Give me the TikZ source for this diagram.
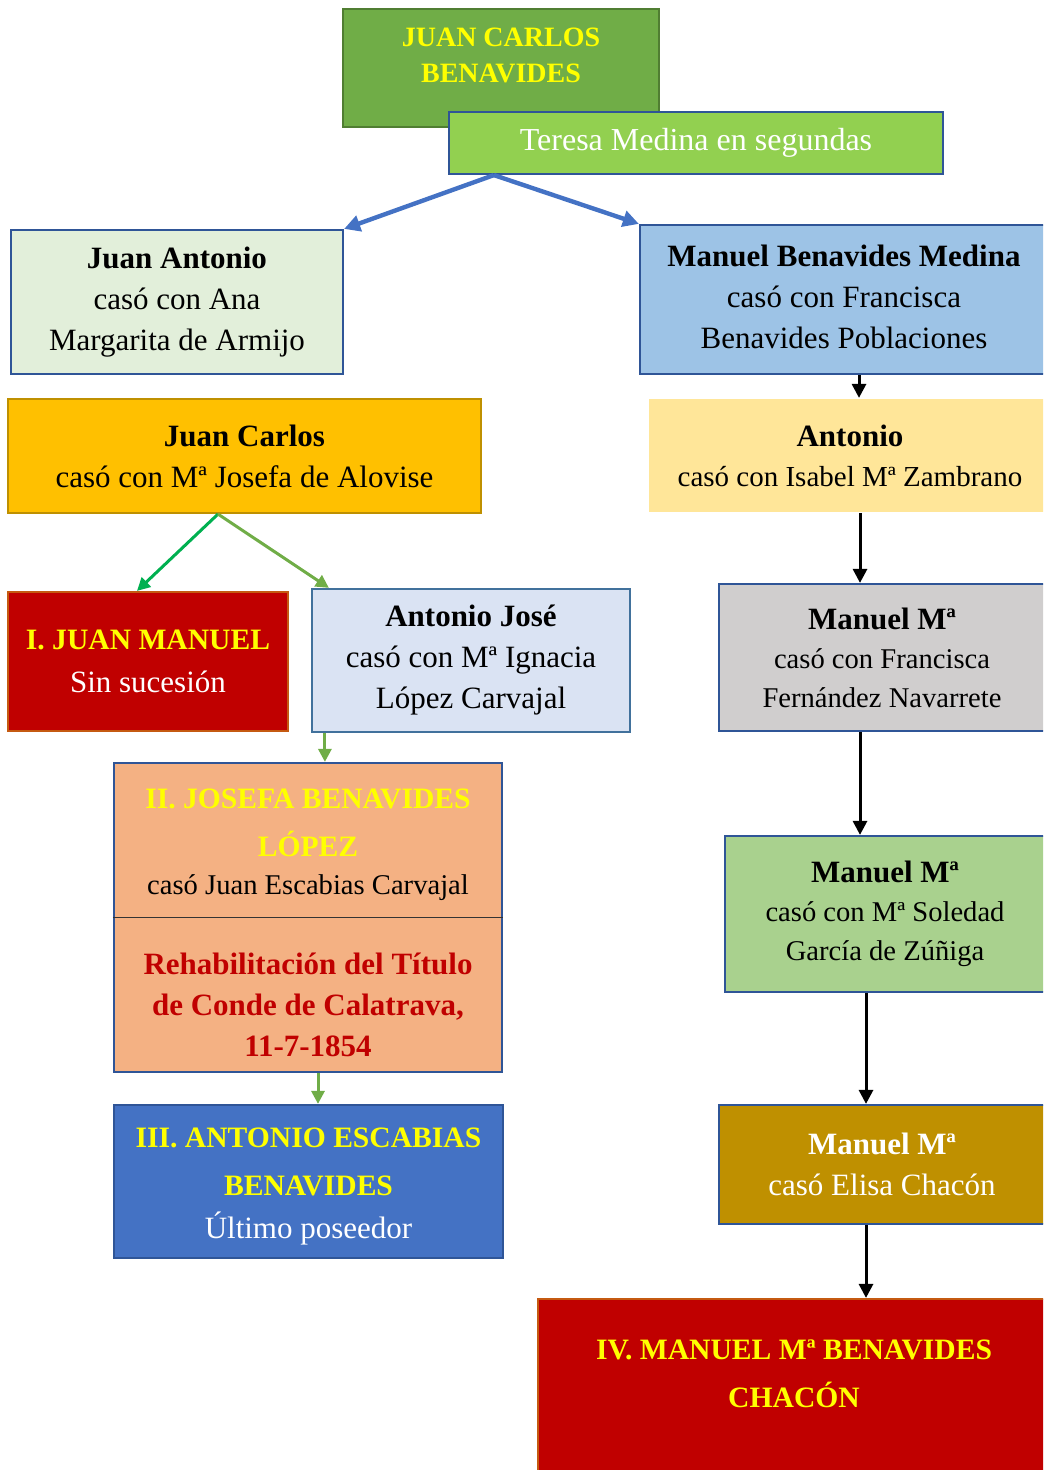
\documentclass[tikz,border=0pt]{standalone}
\usepackage{fontspec}
\setmainfont{Liberation Serif}
\usepackage{xcolor}
\usepackage{tikz}
\usetikzlibrary{arrows.meta}
\usetikzlibrary{calc}

\definecolor{jcgreen}{HTML}{70AD47}
\definecolor{jcedge}{HTML}{507E32}
\definecolor{limegreen}{HTML}{92D050}
\definecolor{edgeblue}{HTML}{2F5597}
\definecolor{arrowblue}{HTML}{4472C4}
\definecolor{palegreen}{HTML}{E2EFDA}
\definecolor{skyblue}{HTML}{9DC3E6}
\definecolor{amber}{HTML}{FFC000}
\definecolor{amberedge}{HTML}{BF9000}
\definecolor{paleyellow}{HTML}{FFE699}
\definecolor{darkred}{HTML}{C00000}
\definecolor{rededge}{HTML}{C55A11}
\definecolor{paleblue}{HTML}{DAE3F3}
\definecolor{steeledge}{HTML}{41719C}
\definecolor{peach}{HTML}{F4B183}
\definecolor{royal}{HTML}{4472C4}
\definecolor{stone}{HTML}{D0CECE}
\definecolor{sage}{HTML}{A9D18E}
\definecolor{ochre}{HTML}{BF9000}
\definecolor{brightgreen}{HTML}{00B050}
\definecolor{titleyellow}{HTML}{FFFF00}

\newcommand{\bodyfont}{\fontsize{15.5}{20.5}\selectfont}
\newcommand{\smallbody}{\fontsize{14.3}{19.5}\selectfont}
\newcommand{\titlefont}{\fontsize{14.8}{24}\selectfont\bfseries}
\newcommand{\ttl}[1]{{\titlefont\color{titleyellow}#1}}

\begin{document}
\begin{tikzpicture}[x=0.5pt, y=-0.5pt, >={Triangle[length=7pt,width=7pt]},
  box/.style={draw=edgeblue, line width=1.1pt, align=center, inner sep=0pt, font=\bodyfont},
  title/.style={align=center, font=\titlefont, text=titleyellow},
  bluearrow/.style={-{Triangle[length=8pt,width=8pt]}, line width=2.2pt, arrowblue},
  greenarrow/.style={-{Triangle[length=6.5pt,width=6.5pt]}, line width=1.5pt, jcgreen},
  blackarrow/.style={->, line width=1.5pt, black}]
  \useasboundingbox (0,0) rectangle (1043,1470);
  \clip (0,0) rectangle (1043,1470);

  % ===== Top: Juan Carlos Benavides and Teresa Medina =====
  \node[box, draw=jcedge, fill=jcgreen, minimum width=158pt, minimum height=59pt] (jc) at (501,68) {};
  \node[title, font=\fontsize{14}{18}\selectfont\bfseries] (jctext) at (501,55) {JUAN CARLOS\\BENAVIDES};
  \node[box, fill=limegreen, text=white, font=\fontsize{16}{20}\selectfont,
        minimum width=247pt, minimum height=31pt] (teresa) at (696,143) {Teresa Medina en segundas};

  % ===== Second generation =====
  \node[box, fill=palegreen, minimum width=166pt, minimum height=72pt] (jant) at (177,302)
    {\textbf{Juan Antonio}\\casó con Ana\\Margarita de Armijo};
  \node[box, fill=skyblue, minimum width=204pt, minimum height=74.5pt] (mbm) at (844,299.5) {};
  \node[align=center, font=\bodyfont] (mbmtext) at (844,296.5)
    {\textbf{Manuel Benavides Medina}\\casó con Francisca\\Benavides Poblaciones};

  \draw[bluearrow] ($(teresa.south west)+(46,0)$) -- (jant.north east);
  \draw[bluearrow] ($(teresa.south west)+(46,0)$) -- (mbm.north west);

  % ===== Left branch =====
  \node[box, draw=amberedge, fill=amber, minimum width=236.5pt, minimum height=57pt] (jcar) at (244.5,456)
    {\textbf{Juan Carlos}\\casó con Mª Josefa de Alovise};
  \node[box, draw=rededge, fill=darkred, minimum width=140pt, minimum height=69.5pt] (jman) at (148,661.5)
    {\ttl{I. JUAN MANUEL}\\[1pt]\textcolor{white}{Sin sucesión}};
  \node[box, draw=steeledge, fill=paleblue, minimum width=159pt, minimum height=71.5pt] (ajo) at (471,660.5)
    {\textbf{Antonio José}\\casó con Mª Ignacia\\López Carvajal};

  \draw[-{Triangle[length=6.5pt,width=6.5pt]}, line width=1.5pt, brightgreen]
    ($(jcar.south)+(-26.5,0)$) -- ($(jman.north)+(-11,0)$);
  \draw[greenarrow] ($(jcar.south)+(-26.5,0)$) -- ($(ajo.north west)+(18,0)$);

  \node[box, fill=peach, minimum width=194pt, minimum height=154.5pt] (jos) at (308,917.5) {};
  \draw[line width=0.8pt, black!80] (jos.west) -- (jos.east);
  \node[title] (jostitle) at (308,823) {II. JOSEFA BENAVIDES\\LÓPEZ};
  \node[font=\smallbody] (joscaso) at (308,888) {casó Juan Escabias Carvajal};
  \node[align=center, font=\bodyfont\bfseries, text=darkred] (josnote) at (308,1005)
    {Rehabilitación del Título\\de Conde de Calatrava,\\11-7-1854};

  \node[box, fill=royal, minimum width=194.5pt, minimum height=76.5pt] (aeb) at (308.5,1181.5) {};
  \node[align=center, font=\bodyfont] (aebtext) at (308.5,1186)
    {\ttl{III. ANTONIO ESCABIAS}\\[3.5pt]\ttl{BENAVIDES}\\[1pt]\textcolor{white}{Último poseedor}};

  \draw[greenarrow] ($(ajo.south west)+(14,0)$) -- ($(jos.north west)+(212,0)$);
  \draw[greenarrow] ($(jos.south)+(10,0)$) -- ($(aeb.north)+(9.5,0)$);

  % ===== Right branch =====
  \node[box, draw=none, fill=paleyellow, font=\fontsize{14.5}{20}\selectfont,
        minimum width=201pt, minimum height=56.5pt] (anto) at (850,455.5)
    {{\bodyfont\textbf{Antonio}}\\casó con Isabel Mª Zambrano};
  \node[box, fill=stone, font=\smallbody, minimum width=163pt, minimum height=73.5pt] (mma) at (882,657.5)
    {{\bodyfont\textbf{Manuel Mª}}\\casó con Francisca\\Fernández Navarrete};
  \node[box, fill=sage, font=\smallbody, minimum width=160pt, minimum height=78pt] (mmb) at (885,914)
    {{\bodyfont\textbf{Manuel Mª}}\\casó con Mª Soledad\\García de Zúñiga};
  \node[box, fill=ochre, text=white, minimum width=163pt, minimum height=59.5pt] (mmc) at (882,1164.5)
    {\textbf{Manuel Mª}\\casó Elisa Chacón};
  \node[box, draw=rededge, fill=darkred, minimum width=256pt, minimum height=90.5pt] (mmd) at (794,1389.5) {};
  \node[title] (mmdtitle) at (794,1374) {IV. MANUEL Mª BENAVIDES\\CHACÓN};

  \draw[blackarrow] ($(mbm.south)+(15,0)$) -- ($(anto.north)+(9,0)$);
  \draw[blackarrow] ($(anto.south)+(10,0)$) -- ($(mma.north)+(-22,0)$);
  \draw[blackarrow] ($(mma.south)+(-22,0)$) -- ($(mmb.north)+(-25,0)$);
  \draw[blackarrow] ($(mmb.south)+(-19,0)$) -- ($(mmc.north)+(-16,0)$);
  \draw[blackarrow] ($(mmc.south)+(-16,0)$) -- ($(mmd.north)+(72,0)$);
\end{tikzpicture}
\end{document}
